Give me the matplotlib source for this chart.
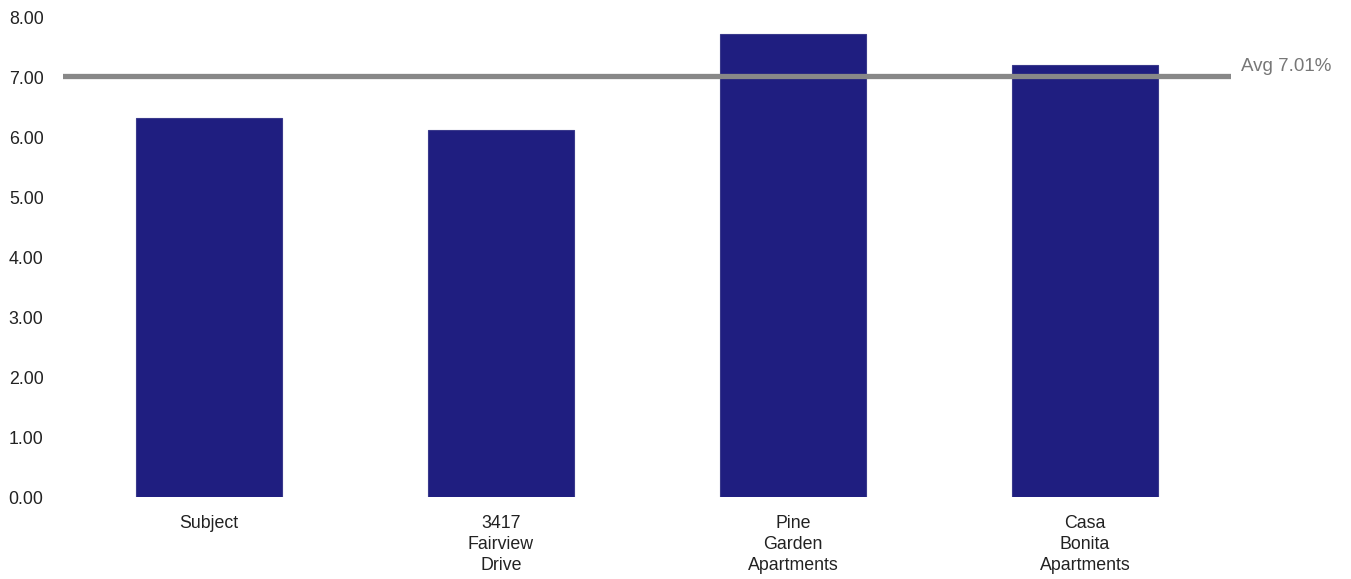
import matplotlib
matplotlib.use("Agg")
import matplotlib.pyplot as plt

# Datos
categorias = ["Subject", "3417\nFairview\nDrive", "Pine\nGarden\nApartments", "Casa\nBonita\nApartments"]
valores = [6.32, 6.12, 7.72, 7.20]
promedio = 7.01
ticks_y = [0, 1, 2, 3, 4, 5, 6, 7, 8]

plt.rcParams['font.family'] = ['Liberation Sans', 'DejaVu Sans']

fig = plt.figure(figsize=(13.51, 5.79), dpi=100)
ax = fig.add_axes([63 / 1351, 82 / 579, 1168 / 1351, 480 / 579])

x = range(len(categorias))
ax.bar(x, valores, width=0.503, color='#1f1e80', edgecolor='#3a3a8c', linewidth=0.8, zorder=2)

# Línea de promedio
ax.axhline(promedio, color='#888888', lw=3.8, zorder=3)
ax.annotate(f"Avg {promedio:.2f}%", xy=(1.0, promedio), xycoords=('axes fraction', 'data'),
            xytext=(7, 1), textcoords='offset points', ha='left', va='bottom',
            fontsize=13.5, color='#777777')

ax.set_xlim(-0.5, 3.5)
ax.set_ylim(0, 8)
ax.set_yticks(ticks_y)
ax.set_yticklabels([f"{t:.2f}" for t in ticks_y])
ax.set_xticks(list(x))
ax.set_xticklabels(categorias, linespacing=1.32)

ax.tick_params(axis='y', length=0, pad=14, labelsize=12.8, labelcolor='#222222')
ax.tick_params(axis='x', length=0, pad=13, labelsize=12.8, labelcolor='#222222')
for s in ax.spines.values():
    s.set_visible(False)

fig.savefig("out.png", dpi=100)
